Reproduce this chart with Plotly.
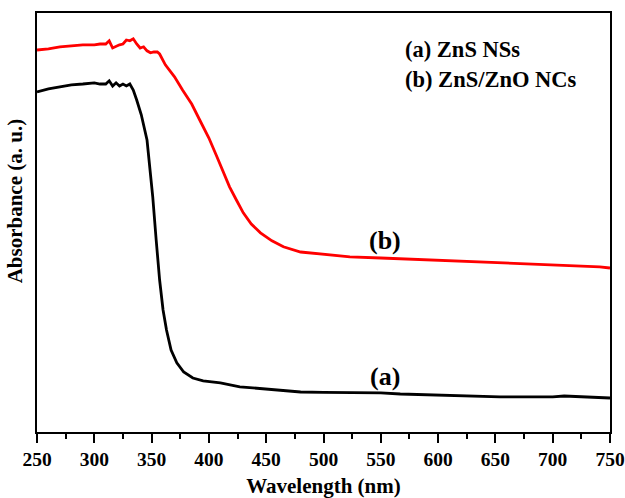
import plotly.graph_objects as go

# Curve (a): ZnS NSs
wl_a = [250, 260, 270, 280, 290, 300, 305, 310, 313, 316, 319, 322, 325, 328, 331, 334,
        337, 341, 346, 351, 354, 357, 360, 363, 367, 372, 378, 386, 395, 410, 427, 450,
        480, 500, 550, 567, 600, 654, 700, 710, 750]
abs_a = [0.850, 0.858, 0.863, 0.868, 0.870, 0.873, 0.870, 0.870, 0.878, 0.865, 0.873, 0.865,
         0.870, 0.865, 0.870, 0.855, 0.830, 0.793, 0.730, 0.588, 0.480, 0.380, 0.305, 0.255,
         0.205, 0.173, 0.150, 0.135, 0.128, 0.123, 0.113, 0.108, 0.100, 0.099, 0.098, 0.095,
         0.093, 0.088, 0.088, 0.090, 0.085]

# Curve (b): ZnS/ZnO NCs
wl_b = [250, 260, 270, 280, 290, 300, 305, 310, 313, 316, 319, 322, 325, 328, 331, 334, 337,
        340, 343, 346, 349, 352, 355, 357, 362, 370, 377, 385, 392, 400, 407, 413, 418, 424,
        430, 437, 445, 455, 465, 480, 506, 523, 550, 567, 600, 654, 700, 741, 750]
abs_b = [0.955, 0.958, 0.963, 0.965, 0.968, 0.968, 0.970, 0.970, 0.978, 0.960, 0.965, 0.968,
         0.970, 0.980, 0.978, 0.983, 0.970, 0.960, 0.963, 0.953, 0.948, 0.950, 0.950, 0.945,
         0.918, 0.888, 0.855, 0.820, 0.780, 0.735, 0.688, 0.648, 0.613, 0.580, 0.548, 0.520,
         0.498, 0.478, 0.463, 0.450, 0.443, 0.438, 0.435, 0.433, 0.428, 0.423, 0.418, 0.413,
         0.410]

x_ticks = [250, 300, 350, 400, 450, 500, 550, 600, 650, 700, 750]

FONT = "Liberation Serif"

fig = go.Figure()
fig.add_trace(go.Scatter(x=wl_a, y=abs_a, mode="lines", line=dict(color="black", width=2.8),
                         name="(a) ZnS NSs", showlegend=False))
fig.add_trace(go.Scatter(x=wl_b, y=abs_b, mode="lines", line=dict(color="#ff0000", width=2.8),
                         name="(b) ZnS/ZnO NCs", showlegend=False))

fig.update_layout(
    width=625, height=498,
    margin=dict(l=37, r=15, t=13, b=66, autoexpand=False),
    plot_bgcolor="white", paper_bgcolor="white",
    font=dict(family=FONT, color="black"),
    xaxis=dict(
        range=[250, 750], tickvals=x_ticks, ticktext=[str(v) for v in x_ticks],
        ticks="outside", ticklen=9, tickwidth=2, tickcolor="black",
        minor=dict(dtick=25, ticks="outside", ticklen=5, tickwidth=2, tickcolor="black"),
        showline=True, linecolor="black", linewidth=2, mirror=True,
        showgrid=False, zeroline=False, automargin=False,
        tickfont=dict(family=FONT, size=19.5, color="black", weight="bold"),
        title=dict(text="<b>Wavelength (nm)</b>", font=dict(family=FONT, size=21), standoff=10),
    ),
    yaxis=dict(
        range=[0, 1.0475], showticklabels=False, ticks="",
        showline=True, linecolor="black", linewidth=2, mirror=True,
        showgrid=False, zeroline=False, automargin=False,
    ),
)

fig.add_annotation(text="<b>Absorbance (a. u.)</b>", xref="paper", yref="paper",
                   x=-0.038, y=0.551, textangle=-90, showarrow=False,
                   font=dict(family=FONT, size=21), xanchor="center", yanchor="middle")
fig.add_annotation(text="<b>(a) ZnS NSs</b>", xref="paper", yref="paper",
                   x=(403 - 37) / 573, y=(432 - 50) / 419, showarrow=False,
                   xanchor="left", yanchor="middle", font=dict(family=FONT, size=22.5))
fig.add_annotation(text="<b>(b) ZnS/ZnO NCs</b>", xref="paper", yref="paper",
                   x=(403 - 37) / 573, y=(432 - 79) / 419, showarrow=False,
                   xanchor="left", yanchor="middle", font=dict(family=FONT, size=22.5))
fig.add_annotation(text="<b>(b)</b>", x=554, y=0.478, showarrow=False,
                   font=dict(family=FONT, size=26), xanchor="center", yanchor="middle")
fig.add_annotation(text="<b>(a)</b>", x=554, y=0.138, showarrow=False,
                   font=dict(family=FONT, size=26), xanchor="center", yanchor="middle")

fig.write_html("out.html")
